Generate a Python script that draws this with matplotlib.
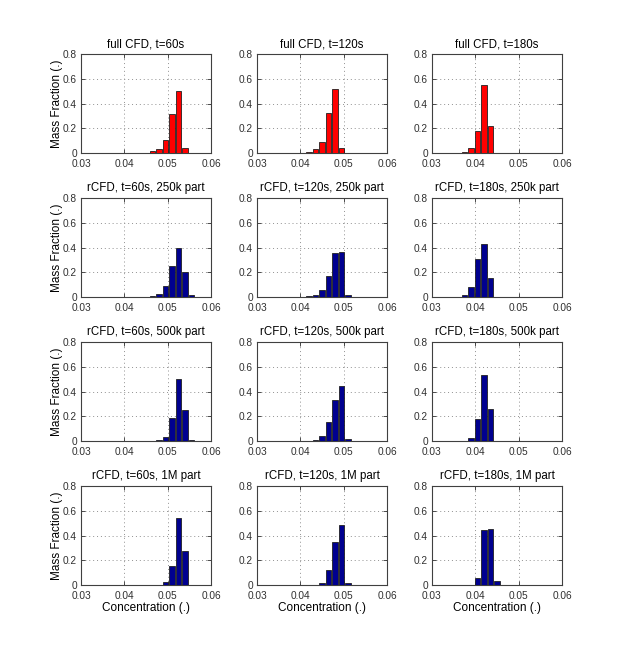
import numpy as np
import matplotlib
matplotlib.use('Agg')
import matplotlib.pyplot as plt

plt.rcParams['font.family'] = ['Liberation Sans', 'DejaVu Sans']

# bin centres of the concentration histogram (0.03 ... 0.06, step 0.0015)
bin_centers = np.round(np.arange(0.03, 0.06 + 1e-9, 0.0015), 5)

# mass fraction per bin, one list per panel (21 bins each)
full_60 = [0, 0, 0, 0, 0, 0, 0, 0, 0, 0, 0.004, 0.014, 0.033, 0.105, 0.313, 0.497, 0.038, 0, 0, 0, 0]
full_120 = [0, 0, 0, 0, 0, 0, 0, 0, 0.010, 0.030, 0.086, 0.320, 0.515, 0.040, 0, 0, 0, 0, 0, 0, 0]
full_180 = [0, 0, 0, 0, 0.002, 0.010, 0.043, 0.180, 0.547, 0.222, 0, 0, 0, 0, 0, 0, 0, 0, 0, 0, 0]

p250_60 = [0, 0, 0, 0, 0, 0, 0, 0, 0, 0, 0.002, 0.005, 0.024, 0.086, 0.250, 0.400, 0.206, 0.013, 0, 0, 0]
p250_120 = [0, 0, 0, 0, 0, 0, 0, 0.002, 0.006, 0.020, 0.054, 0.170, 0.357, 0.367, 0.020, 0, 0, 0, 0, 0, 0]
p250_180 = [0, 0, 0, 0, 0.003, 0.016, 0.078, 0.310, 0.430, 0.150, 0, 0, 0, 0, 0, 0, 0, 0, 0, 0, 0]

p500_60 = [0, 0, 0, 0, 0, 0, 0, 0, 0, 0, 0, 0.002, 0.008, 0.035, 0.183, 0.505, 0.247, 0.008, 0, 0, 0]
p500_120 = [0, 0, 0, 0, 0, 0, 0, 0, 0.002, 0.006, 0.038, 0.150, 0.330, 0.446, 0.020, 0, 0, 0, 0, 0, 0]
p500_180 = [0, 0, 0, 0, 0, 0.003, 0.025, 0.177, 0.535, 0.255, 0, 0, 0, 0, 0, 0, 0, 0, 0, 0, 0]

p1m_60 = [0, 0, 0, 0, 0, 0, 0, 0, 0, 0, 0, 0, 0.003, 0.024, 0.150, 0.542, 0.273, 0, 0, 0, 0]
p1m_120 = [0, 0, 0, 0, 0, 0, 0, 0, 0.003, 0, 0.020, 0.120, 0.348, 0.482, 0.020, 0, 0, 0, 0, 0, 0]
p1m_180 = [0, 0, 0, 0, 0, 0, 0.003, 0.056, 0.447, 0.455, 0.032, 0, 0, 0, 0, 0, 0, 0, 0, 0, 0]

titles = [
    ['full CFD, t=60s', 'full CFD, t=120s', 'full CFD, t=180s'],
    ['rCFD, t=60s, 250k part', 'rCFD, t=120s, 250k part', 'rCFD, t=180s, 250k part'],
    ['rCFD, t=60s, 500k part', 'rCFD, t=120s, 500k part', 'rCFD, t=180s, 500k part'],
    ['rCFD, t=60s, 1M part', 'rCFD, t=120s, 1M part', 'rCFD, t=180s, 1M part'],
]
panels = [
    [full_60, full_120, full_180],
    [p250_60, p250_120, p250_180],
    [p500_60, p500_120, p500_180],
    [p1m_60, p1m_120, p1m_180],
]
row_colors = ['#FF0000', '#00008F', '#00008F', '#00008F']

x_ticks = [0.03, 0.04, 0.05, 0.06]
y_ticks = [0, 0.2, 0.4, 0.6, 0.8]
x_ticklabels = ['0.03', '0.04', '0.05', '0.06']
y_ticklabels = ['0', '0.2', '0.4', '0.6', '0.8']

W, H = 623, 658
fig = plt.figure(figsize=(W / 100, H / 100), dpi=100)

col_left = [81, 257, 432]
row_top = [54, 198, 342, 486]
ax_w, ax_h = 130, 99

for r in range(4):
    for c in range(3):
        ax = fig.add_axes([col_left[c] / W, 1 - (row_top[r] + ax_h) / H, ax_w / W, ax_h / H])
        ax.bar(bin_centers, panels[r][c], width=0.0013, color=row_colors[r],
               edgecolor='#202020', linewidth=0.6, zorder=3)
        ax.set_xlim(0.03, 0.06)
        ax.set_ylim(0, 0.8)
        ax.set_xticks(x_ticks)
        ax.set_xticklabels(x_ticklabels)
        ax.set_yticks(y_ticks)
        ax.set_yticklabels(y_ticklabels)
        ax.grid(True, linestyle=(0, (1, 3)), color='#909090', linewidth=0.7, zorder=0)
        ax.tick_params(direction='in', length=3, width=0.6, labelsize=7.3,
                       top=True, right=True, colors='#303030')
        ax.tick_params(axis='x', pad=4)
        ax.tick_params(axis='y', pad=3)
        for s in ax.spines.values():
            s.set_color('#404040')
            s.set_linewidth(0.8)
        ax.set_title(titles[r][c], fontsize=8.3, pad=5)
        if c == 0:
            ax.set_ylabel('Mass Fraction (.)', fontsize=8.5, labelpad=0)
        if r == 3:
            ax.set_xlabel('Concentration (.)', fontsize=8.5, labelpad=1)

fig.savefig('out.png', dpi=100)
